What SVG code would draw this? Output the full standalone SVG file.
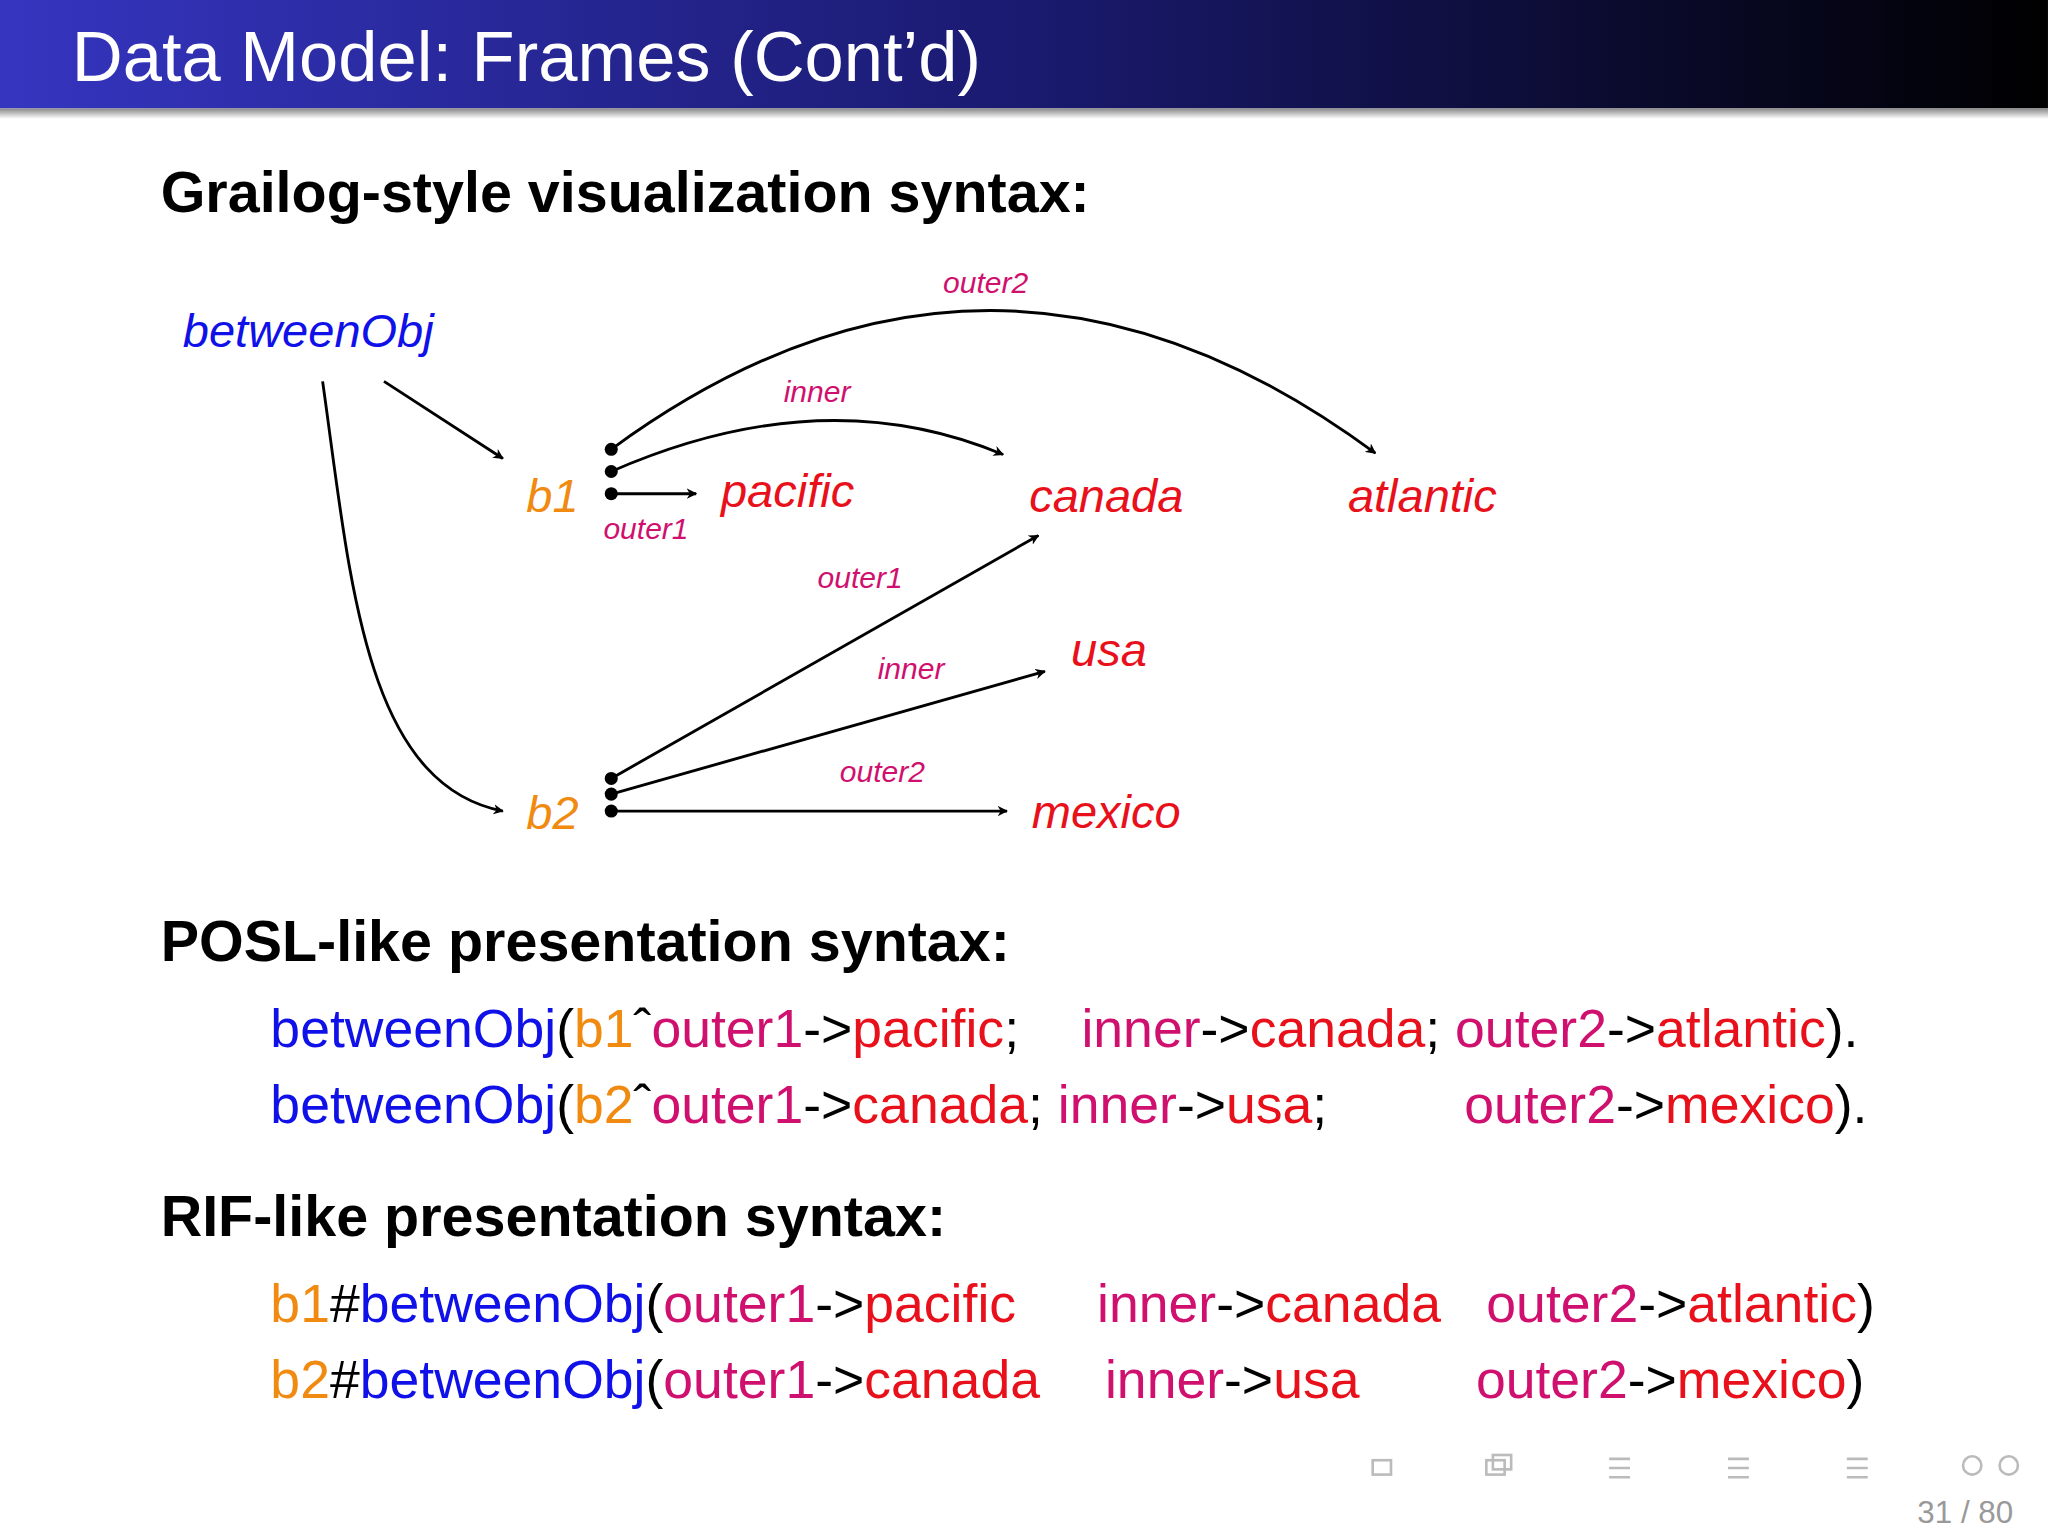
<svg xmlns="http://www.w3.org/2000/svg" width="2048" height="1536" viewBox="0 0 2048 1536">
<defs>
<linearGradient id="hdr" x1="0" y1="0" x2="1" y2="0"><stop offset="0" stop-color="#3535c0"/><stop offset="0.5" stop-color="#1a1a70"/><stop offset="1" stop-color="#000"/></linearGradient>
<linearGradient id="sh" x1="0" y1="0" x2="0" y2="1"><stop offset="0" stop-color="#888"/><stop offset="1" stop-color="#fff"/></linearGradient>
<marker id="ar" viewBox="0 0 10 10" refX="9" refY="5" markerWidth="8" markerHeight="8" orient="auto" markerUnits="userSpaceOnUse"><path d="M0,0 L10,5 L0,10 L3,5 z" fill="#000"/></marker>
<style>
text{font-family:"Liberation Sans",Arial,sans-serif}
.n{font-size:36px;font-style:italic}
.lb{font-size:23px;font-style:italic;fill:#d0106e}
.e{fill:none;stroke:#000;stroke-width:2.2;marker-end:url(#ar)}
.h{font-size:44px;font-weight:bold;fill:#000}
.c{font-size:41px}
.B{fill:#1010e8}.O{fill:#f08a10}.R{fill:#e8101a}.M{fill:#d0106e}.K{fill:#000}
</style>
</defs>
<rect width="2048" height="1536" fill="#fff"/>
<g transform="scale(1.3061)">
<rect x="0" y="0" width="1568" height="83" fill="url(#hdr)"/>
<rect x="0" y="83" width="1568" height="8" fill="url(#sh)"/>
<text x="55" y="62" font-size="54" fill="#fff">Data Model: Frames (Cont’d)</text>
<text class="h" x="123" y="162">Grailog-style visualization syntax:</text>

<g id="connectors">
<path class="e" d="M294,292 L385,351"/>
<path class="e" d="M247,292 C268,440 278,600 385,621"/>
<path class="e" d="M468,344 Q760,130 1053,347"/>
<path class="e" d="M468,361 Q630,290 768,348"/>
<path class="e" d="M468,378 L533,378"/>
<path class="e" d="M468,596 L795,410"/>
<path class="e" d="M468,608 L800,514"/>
<path class="e" d="M468,621 L771,621"/>
<g fill="#000"><circle cx="468" cy="344" r="5"/><circle cx="468" cy="361" r="5"/><circle cx="468" cy="378" r="5"/><circle cx="468" cy="596" r="5"/><circle cx="468" cy="608" r="5"/><circle cx="468" cy="621" r="5"/></g>
<text class="lb" x="722" y="224">outer2</text>
<text class="lb" x="600" y="308">inner</text>
<text class="lb" x="462" y="413">outer1</text>
<text class="lb" x="626" y="450">outer1</text>
<text class="lb" x="672" y="520">inner</text>
<text class="lb" x="643" y="599">outer2</text>
</g>
<g id="betweenObj"><text class="n B" x="140" y="266">betweenObj</text></g>
<g id="b1"><text class="n O" x="403" y="392" font-style="normal">b1</text></g>
<g id="b2"><text class="n O" x="403" y="635" font-style="normal">b2</text></g>
<g id="pacific"><text class="n R" x="552" y="388">pacific</text></g>
<g id="canada"><text class="n R" x="788" y="392">canada</text></g>
<g id="atlantic"><text class="n R" x="1032" y="392">atlantic</text></g>
<g id="usa"><text class="n R" x="820" y="510">usa</text></g>
<g id="mexico"><text class="n R" x="790" y="634">mexico</text></g>

<text class="h" x="123" y="736">POSL-like presentation syntax:</text>
<text class="c" x="207" y="802"><tspan class="B">betweenObj</tspan><tspan class="K">(</tspan><tspan class="O">b1</tspan><tspan class="K">ˆ</tspan><tspan class="M">outer1</tspan><tspan class="K">-&gt;</tspan><tspan class="R">pacific</tspan><tspan class="K">;</tspan><tspan x="828" class="M">inner</tspan><tspan class="K">-&gt;</tspan><tspan class="R">canada</tspan><tspan class="K">; </tspan><tspan class="M">outer2</tspan><tspan class="K">-&gt;</tspan><tspan class="R">atlantic</tspan><tspan class="K">).</tspan></text>
<text class="c" x="207" y="860"><tspan class="B">betweenObj</tspan><tspan class="K">(</tspan><tspan class="O">b2</tspan><tspan class="K">ˆ</tspan><tspan class="M">outer1</tspan><tspan class="K">-&gt;</tspan><tspan class="R">canada</tspan><tspan class="K">; </tspan><tspan class="M">inner</tspan><tspan class="K">-&gt;</tspan><tspan class="R">usa</tspan><tspan class="K">;</tspan><tspan x="1121" class="M">outer2</tspan><tspan class="K">-&gt;</tspan><tspan class="R">mexico</tspan><tspan class="K">).</tspan></text>

<text class="h" x="123" y="946">RIF-like presentation syntax:</text>
<text class="c" x="207" y="1012"><tspan class="O">b1</tspan><tspan class="K">#</tspan><tspan class="B">betweenObj</tspan><tspan class="K">(</tspan><tspan class="M">outer1</tspan><tspan class="K">-&gt;</tspan><tspan class="R">pacific</tspan><tspan x="840" class="M">inner</tspan><tspan class="K">-&gt;</tspan><tspan class="R">canada</tspan><tspan x="1138" class="M">outer2</tspan><tspan class="K">-&gt;</tspan><tspan class="R">atlantic</tspan><tspan class="K">)</tspan></text>
<text class="c" x="207" y="1070"><tspan class="O">b2</tspan><tspan class="K">#</tspan><tspan class="B">betweenObj</tspan><tspan class="K">(</tspan><tspan class="M">outer1</tspan><tspan class="K">-&gt;</tspan><tspan class="R">canada</tspan><tspan x="846" class="M">inner</tspan><tspan class="K">-&gt;</tspan><tspan class="R">usa</tspan><tspan x="1130" class="M">outer2</tspan><tspan class="K">-&gt;</tspan><tspan class="R">mexico</tspan><tspan class="K">)</tspan></text>

<text x="1468" y="1166" font-size="24" fill="#999">31 / 80</text>
<g fill="none" stroke="#bbb" stroke-width="2">
<rect x="1051" y="1118" width="14" height="11"/>
<rect x="1138" y="1118" width="14" height="11"/><rect x="1143" y="1114" width="14" height="11"/>
<path d="M1232,1117h16M1232,1124h16M1232,1131h16M1323,1117h16M1323,1124h16M1323,1131h16M1414,1117h16M1414,1124h16M1414,1131h16"/>
<circle cx="1510" cy="1122" r="7"/><circle cx="1538" cy="1122" r="7"/>
</g>
</g>
</svg>
